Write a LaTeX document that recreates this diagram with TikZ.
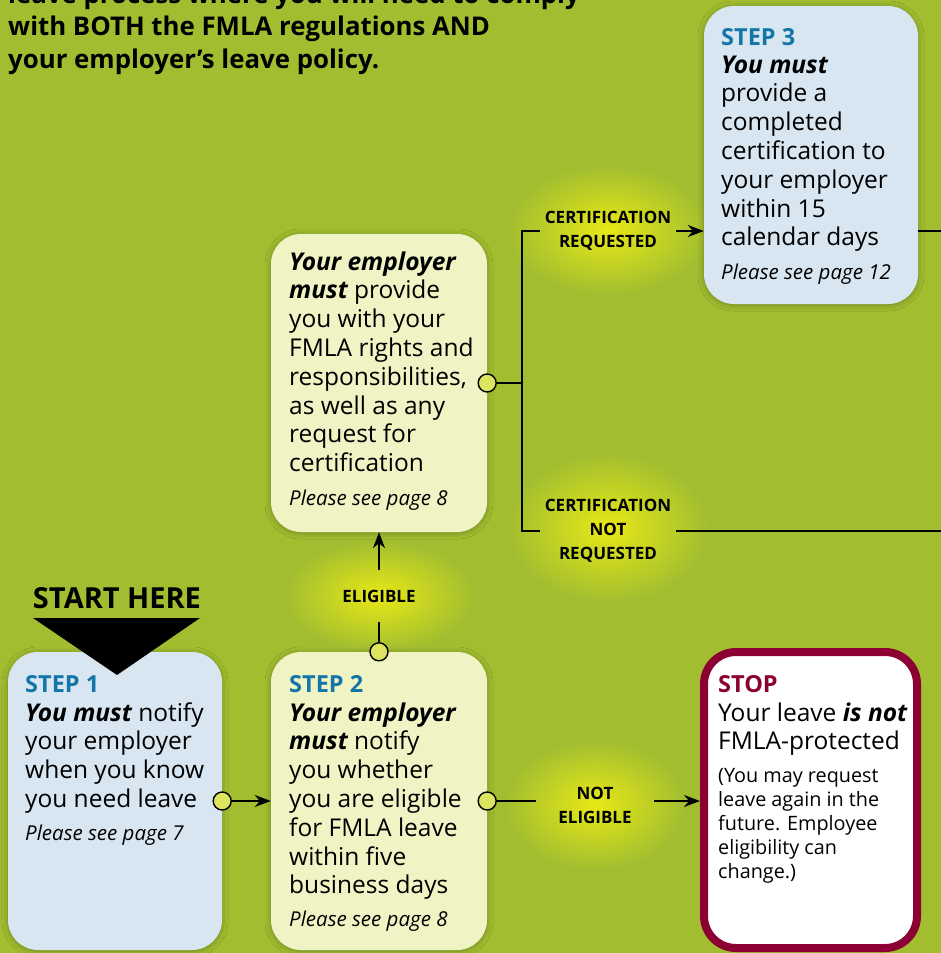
\documentclass[tikz,border=0pt]{standalone}
\usepackage{fontspec}
\setmainfont{Open Sans}
\usetikzlibrary{arrows.meta,shapes.geometric,shadows.blur}

\definecolor{fieldgreen}{RGB}{162,190,48}
\definecolor{boxblue}{RGB}{216,230,241}
\definecolor{boxyellow}{RGB}{240,243,196}
\definecolor{stepblue}{RGB}{20,118,168}
\definecolor{stopred}{RGB}{140,0,51}
\definecolor{dotyellow}{RGB}{221,228,95}
\definecolor{glowyellow}{RGB}{232,232,22}

\begin{document}
\begin{tikzpicture}[x=1pt, y=-1pt,
    box/.style={rounded corners=30pt, minimum width=216pt, minimum height=298pt,
        inner sep=0pt, blur shadow={shadow xshift=0pt, shadow yshift=-1pt,
        shadow blur radius=6pt, shadow opacity=30}},
    bluebox/.style={box, fill=boxblue},
    yellowbox/.style={box, fill=boxyellow},
    stopbox/.style={rounded corners=32pt, minimum width=213pt, minimum height=296pt,
        inner sep=0pt, draw=stopred, line width=8pt, fill=white},
    head/.style={anchor=base west, inner sep=0pt, text=stepblue,
        font=\bfseries\fontsize{23.5}{25}\selectfont},
    body/.style={anchor=base west, inner sep=0pt, align=left,
        font=\fontsize{24.5}{28.8}\selectfont},
    note/.style={anchor=base west, inner sep=0pt, font=\itshape\fontsize{20.5}{24}\selectfont},
    small/.style={anchor=base west, inner sep=0pt, align=left,
        font=\fontsize{19.8}{24}\selectfont},
    dot/.style={circle, draw=black, line width=1.4pt, fill=dotyellow,
        minimum size=18pt, inner sep=0pt},
    glow/.style={ellipse, inner color=glowyellow, outer color=fieldgreen, inner sep=0pt},
    lbl/.style={align=center, font=\bfseries\fontsize{17}{24}\selectfont},
    link/.style={line width=1.4pt},
    arrow/.style={link, -{Stealth[length=16pt, width=12pt, inset=5pt]}}
]
    \useasboundingbox (0,0) rectangle (941,953);
    \clip (0,0) rectangle (941,953);
    \fill[fieldgreen] (0,0) rectangle (941,953);

    % intro text, cut off at the top (placed by its last line)
    \node[anchor=base west, inner sep=0pt, align=left,
        font=\bfseries\fontsize{25.8}{32.5}\selectfont] (intro) at (8,68)
        {leave process where you will need to comply\\
         with BOTH the FMLA regulations AND\\
         your employer’s leave policy.};

    % glows behind the labels
    \node[glow, minimum width=200pt, minimum height=130pt] (glowreq) at (608,230) {};
    \node[glow, minimum width=200pt, minimum height=150pt] (glownot) at (608,528) {};
    \node[glow, minimum width=190pt, minimum height=110pt] (glowelig) at (379,596) {};
    \node[glow, minimum width=180pt, minimum height=130pt] (glownotelig) at (595,805) {};

    % boxes
    \node[bluebox, minimum width=214pt] (step1) at (115,801) {};
    \node[yellowbox] (step2) at (379,801) {};
    \node[yellowbox] (rights) at (379,383) {};
    \node[bluebox, minimum width=214pt] (step3) at (811,155) {};
    \node[stopbox] (stop) at (810.5,800) {};

    % step 1 (text blocks sit on their last baseline)
    \node[head] (step1-head) at (25,692) {STEP 1};
    \node[body] (step1-text) at (25,807.4)
        {{\bfseries\itshape You must} notify\\your employer\\when you know\\you need leave};
    \node[note] (step1-note) at (25,840) {Please see page 7};

    % start here
    \node[anchor=base, inner sep=0pt, font=\bfseries\fontsize{29}{30}\selectfont]
        (start) at (117,608) {START HERE};
    \fill (33,618) -- (200,618) -- (117,675) -- cycle;

    % step 2
    \node[head] (step2-head) at (289,692) {STEP 2};
    \node[body] (step2-text) at (289,893.8)
        {{\bfseries\itshape Your employer}\\{\bfseries\itshape must} notify\\you whether\\
         you are eligible\\for FMLA leave\\within five\\business days};
    \node[note] (step2-note) at (289,926) {Please see page 8};

    % rights and responsibilities
    \node[body] (rights-text) at (289,471.6)
        {{\bfseries\itshape Your employer}\\{\bfseries\itshape must} provide\\you with your\\
         FMLA rights and\\responsibilities,\\as well as any\\request for\\certification};
    \node[note] (rights-note) at (289,505) {Please see page 8};

    % step 3
    \node[head] (step3-head) at (721,45) {STEP 3};
    \node[body] (step3-text) at (721,245.8)
        {{\bfseries\itshape You must}\\provide a\\completed\\certification to\\
         your employer\\within 15\\calendar days};
    \node[note] (step3-note) at (721,279) {Please see page 12};

    % stop
    \node[head, text=stopred] (stop-head) at (718,692) {STOP};
    \node[body] (stop-text) at (718,749.8)
        {Your leave {\bfseries\itshape is not}\\FMLA-protected};
    \node[small] (stop-note) at (718,878)
        {(You may request\\leave again in the\\future. Employee\\eligibility can\\change.)};

    % labels
    \node[lbl, inner xsep=5pt, inner ysep=0pt] (lblreq) at (608,231) {CERTIFICATION\\REQUESTED};
    \node[lbl, inner xsep=5pt, inner ysep=0pt] (lblnot) at (608,531)
        {CERTIFICATION\\NOT\\REQUESTED};
    \node[lbl, inner xsep=0pt, inner ysep=20pt] (lblelig) at (379,596) {ELIGIBLE};
    \node[lbl, inner xsep=22pt, inner ysep=0pt] (lblnotelig) at (595,805) {NOT\\ELIGIBLE};

    % dots
    \node[dot] (d1) at (step1.east) {};
    \node[dot] (d2) at (step2.east) {};
    \node[dot] (d3) at (step2.north) {};
    \node[dot] (d4) at (rights.east) {};

    \coordinate (forktop) at (522,231);
    \coordinate (forkbot) at (522,531);
    \coordinate (offright) at (941,0);

    % connectors
    \draw[arrow] (d1) -- (step2);
    \draw[link] (d2) -- (d2 -| lblnotelig.west);
    \draw[arrow] (d2 -| lblnotelig.east) -- (d2 -| stop.west);
    \draw[link] (d3) -- (lblelig);
    \draw[arrow] (lblelig) -- (rights);
    \draw[link] (d4) -- (d4 -| forktop);
    \draw[link] (lblreq.west) -- (forktop) -- (forkbot) -- (lblnot.west);
    \draw[arrow] (lblreq.east) -- (lblreq.east -| step3.west);
    \draw[link] (lblnot.east) -- (lblnot.east -| offright);
    \draw[link] (step3.east |- lblreq) -- (lblreq -| offright);
\end{tikzpicture}
\end{document}
